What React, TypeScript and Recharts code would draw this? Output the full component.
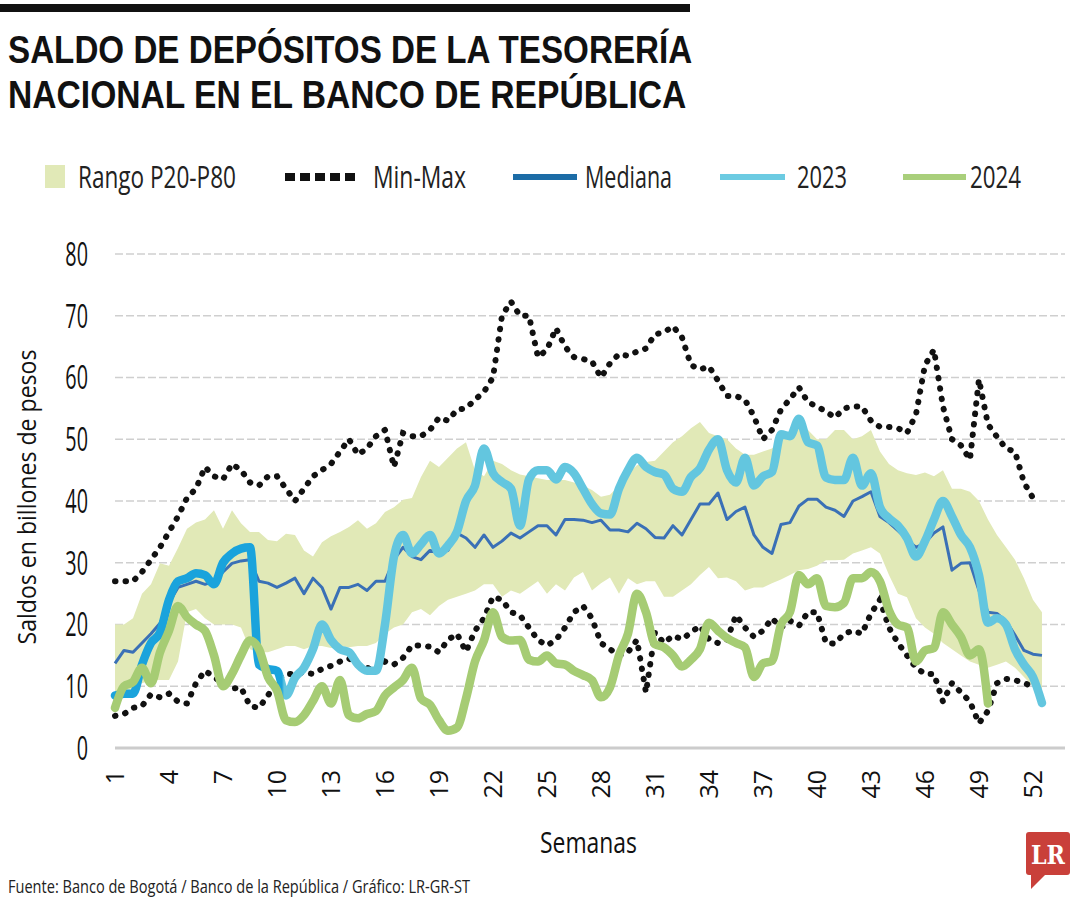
import React, { useLayoutEffect, useRef, useState } from 'react';
import { ComposedChart, Area, Line, XAxis, YAxis, CartesianGrid } from 'recharts';

const weeks = [
  1, 1.5, 2, 2.5, 3, 3.5, 4, 4.5, 5, 5.5,
  6, 6.5, 7, 7.5, 8, 8.5, 9, 9.5, 10, 10.5,
  11, 11.5, 12, 12.5, 13, 13.5, 14, 14.5, 15, 15.5,
  16, 16.5, 17, 17.5, 18, 18.5, 19, 19.5, 20, 20.5,
  21, 21.5, 22, 22.5, 23, 23.5, 24, 24.5, 25, 25.5,
  26, 26.5, 27, 27.5, 28, 28.5, 29, 29.5, 30, 30.5,
  31, 31.5, 32, 32.5, 33, 33.5, 34, 34.5, 35, 35.5,
  36, 36.5, 37, 37.5, 38, 38.5, 39, 39.5, 40, 40.5,
  41, 41.5, 42, 42.5, 43, 43.5, 44, 44.5, 45, 45.5,
  46, 46.5, 47, 47.5, 48, 48.5, 49, 49.5, 50, 50.5,
  51, 51.5, 52, 52.5,
];

const bandLow = [
  8, 9, 9.5, 10.5, 11, 11, 11, 14, 22, 22.5,
  21, 20, 20, 20, 19.5, 16, 15.5, 15.5, 16, 16.5,
  16.5, 16, 16.5, 16.5, 16.2, 16.5, 16.3, 16.5, 16.5, 17,
  18.5, 19.5, 20, 22, 22.5, 21.5, 23, 24, 24.5, 25,
  25.5, 26.5, 26.5, 24.5, 25.5, 25, 26, 27, 25, 26.5,
  25.5, 27.6, 28.5, 25.5, 26.7, 27.6, 25, 27.5, 26.5, 27,
  27, 24.5, 24.5, 25.5, 26.5, 28, 29.3, 27.5, 27.6, 27,
  25.5, 26, 26, 26.7, 27.3, 28, 28.8, 29, 29.5, 30.4,
  30.4, 30.5, 31.5, 32, 32.5, 31.5, 28, 25, 24.4, 21,
  19.5, 18.5, 17, 16, 15, 14, 13.5, 13, 13.5, 14,
  13, 11.5, 10, 8,
];

const bandHigh = [
  20, 20, 21, 25, 26.5, 29.9, 29.5, 32.4, 35.5, 36.5,
  37, 38.5, 35.5, 38.5, 36.4, 35, 35, 33.7, 33.5, 34.7,
  34.5, 32, 31, 33.3, 34.3, 35, 35.8, 36.9, 35.5, 36.4,
  38.2, 39, 40.2, 40.5, 43.9, 46.5, 45.5, 47, 48.5, 49.5,
  45, 44, 46.5, 46, 45, 44.3, 44, 43.7, 43.4, 43.4,
  43.4, 43, 42.5, 41.8, 40.7, 41, 42.5, 44.5, 45.8, 46.3,
  46.5, 48, 49.5, 50.5, 51.8, 52.8, 51, 50.5, 50, 48.5,
  47.5, 47.5, 48, 48.5, 50, 51, 52, 51.5, 50, 50,
  51.5, 51.5, 50, 50.5, 51.5, 48, 46, 45, 44.5, 44.2,
  44.6, 44, 45, 42, 42, 41.5, 40, 37, 34.5, 32.5,
  30.5, 27.5, 24, 22,
];

const maxSeries = [
  27, 27, 27, 28.5, 30.5, 32.5, 35, 37.5, 40.5, 42,
  45.5, 44, 43.5, 46, 45, 43, 42.5, 44, 44, 42,
  40, 42, 44, 45, 46, 48, 50, 47.5, 48.5, 50.5,
  51.5, 45.5, 51, 50.5, 50.5, 51.5, 53.5, 53, 54.8, 55,
  56.4, 57.7, 60, 70, 72.3, 70, 70, 63.3, 64.5, 68,
  65, 63.3, 63, 62.6, 60, 62.3, 63.8, 63.5, 64.2, 64.7,
  67, 67.3, 68.3, 66.5, 62, 61.3, 61.8, 59.5, 57, 57,
  56.4, 53.7, 50, 51.5, 54.8, 56.5, 58.4, 56, 55.3, 54.5,
  53.5, 55, 55.3, 55.3, 53, 52, 52, 51.8, 51, 54,
  62, 64.5, 55.3, 50, 49, 46.7, 59.7, 52.4, 50.4, 48.5,
  48, 43, 40.5, null,
];

const minSeries = [
  5.2, 5.5, 6.5, 6.8, 8.7, 8.2, 8.8, 7.5, 7.2, 10.5,
  12.5, 11.5, 10.5, 9.6, 9.8, 6.8, 6.5, 8.5, 11, 12,
  12, 12.2, 12, 12.8, 13.3, 14, 14.5, 13.5, 13, 12.5,
  14, 13.5, 14.6, 16.6, 16.6, 16.4, 15.5, 17.5, 18.5, 15.6,
  19, 21, 24.5, 24, 22, 21.5, 19.5, 17.5, 16.6, 17.5,
  19.5, 22, 23, 21, 17, 16, 15, 15.5, 17.5, 9,
  18.7, 17, 18.2, 17.6, 18.7, 19.8, 17.6, 17, 17.5, 21.5,
  19.5, 18, 19, 21, 19.5, 20.6, 19.8, 22, 22, 17,
  16.9, 18.5, 19, 18.5, 21.8, 24, 19.5, 17, 15, 13,
  12, 12, 7.5, 10.5, 9, 7.5, 4, 6, 10.5, 11.2,
  11, 10.5, 10, null,
];

const median = [
  13.7, 15.8, 15.5, 17, 18.5, 20.2, 23.5, 26, 26.5, 27,
  26.5, 27, 28.5, 29.9, 30.3, 30.5, 27, 26.7, 26, 26.7,
  27.5, 25, 27.5, 26, 22.5, 26, 26, 26.5, 25.5, 27,
  27, 30.5, 32.5, 31, 30.5, 32, 31.5, 32, 34.8, 34,
  32.5, 34.5, 32.5, 33.5, 34.8, 34, 35, 36, 36, 34.5,
  37, 37, 36.9, 36.5, 36.9, 35.3, 35.3, 35, 36.4, 35.5,
  34.1, 34, 36, 34.5, 37, 39.5, 39.5, 41.3, 37, 38.3,
  39, 34.5, 32.5, 31.5, 36.2, 36.5, 39.2, 40.3, 40.3, 39,
  38.5, 37.5, 40, 40.7, 41.5, 37.5, 36.5, 35.2, 33.8, 32.5,
  33.2, 34.8, 35.8, 28.8, 29.9, 30, 25.5, 22, 21.8, 20.6,
  18.3, 15.8, 15.2, 15,
];

const y2023 = [
  8.5, 8.8, 8.8, 13.5, 17, 18.7, 24, 27, 27.5, 28.3,
  28, 26.5, 30, 31.5, 32.3, 32.5, 13.5, 12.8, 12.5, 8.5,
  11.4, 13, 16, 20, 17.5, 16, 15.5, 13.5, 12.5, 12.5,
  20, 31, 34.5, 31.5, 33, 34.5, 31.5, 32.8, 35, 40,
  42.5, 48.5, 44.5, 43.1, 42, 36, 43.5, 45, 45, 43.5,
  45.5, 44.5, 42, 39.5, 38, 37.8, 42, 45, 47, 45.5,
  44.7, 44.3, 42, 41.5, 43.9, 45.3, 48.3, 50, 45, 43,
  47, 42.5, 44, 44.7, 50.8, 50.5, 53.3, 49.5, 49, 43.8,
  43.4, 43.4, 47, 42.5, 44.5, 39, 37.2, 36, 34, 31,
  33.5, 37, 40, 37.5, 34.5, 32.5, 28, 20.3, 21, 20,
  16, 13.5, 11.5, 7.3,
];

const y2024 = [
  6.5, 10, 10.7, 13, 10.5, 15.5, 19, 23, 21.2, 20,
  19, 15, 10, 12, 15, 17.4, 16, 11.5, 9.3, 4.5,
  4.2, 5.3, 7.6, 10, 7.2, 11, 5.3, 4.8, 5.5, 6,
  8.5, 9.8, 11, 13, 8, 7, 4.5, 2.8, 3.3, 8,
  14, 17.4, 22, 18, 17.4, 17.5, 14.3, 14, 15, 13.7,
  13.5, 12.5, 11.8, 11, 8.2, 9.8, 15, 18.5, 25, 22,
  16.8, 16.3, 15, 13.2, 14.3, 16, 20.3, 19, 17.8, 17,
  16.3, 11.5, 13.7, 14.1, 20, 22, 28, 26.5, 27.5, 23,
  22.8, 23.5, 27.5, 27.5, 28.5, 27, 22.3, 20, 19.5, 14,
  15.8, 16.2, 22, 20, 18, 15, 16, 7.2, null, null,
  null, null, null, null,
];

const xTicks = [1, 4, 7, 10, 13, 16, 19, 22, 25, 28, 31, 34, 37, 40, 43, 46, 49, 52];
const yTicks = [0, 10, 20, 30, 40, 50, 60, 70, 80];

const titleLines = ['SALDO DE DEPÓSITOS DE LA TESORERÍA', 'NACIONAL EN EL BANCO DE REPÚBLICA'];

const data = weeks.map((w, i) => ({
  w,
  band: [bandLow[i], bandHigh[i]],
  max: maxSeries[i],
  min: minSeries[i],
  med: median[i],
  a2023: y2023[i],
  a2024: y2024[i],
}));

const FONT = '"Open Sans", "Noto Sans", Arial, sans-serif';
const TITLE_FONT = '"Liberation Sans", Arial, sans-serif';
const BAND = '#e1e9b7';
const MED = '#3a70b6';
const C2024 = '#a6cc74';

const YTick = (props: any) => {
  const { y, payload } = props;
  return (
    <g transform={`translate(88,${y})`}>
      <text transform="scale(0.6,1)" textAnchor="end" dy="0.36em" fontSize={33} fill="#111" fontFamily={FONT}>
        {payload.value}
      </text>
    </g>
  );
};

const XTick = (props: any) => {
  const { x, payload } = props;
  return (
    <g transform={`translate(${x},770) rotate(-90)`}>
      <text textAnchor="end" dy="0.36em" fontSize={25} fill="#111" fontFamily={FONT}>
        {payload.value}
      </text>
    </g>
  );
};

function FitLine({ text, top, width }: { text: string; top: number; width: number }) {
  const ref = useRef<HTMLDivElement>(null);
  const [scale, setScale] = useState(0.8);
  useLayoutEffect(() => {
    if (ref.current) {
      const natural = ref.current.offsetWidth;
      if (natural > 0) setScale(width / natural);
    }
  }, [text, width]);
  return (
    <div
      ref={ref}
      style={{
        position: 'absolute',
        left: 8,
        top,
        height: 44,
        lineHeight: '44px',
        fontSize: 39.5,
        fontWeight: 700,
        fontFamily: TITLE_FONT,
        color: '#111',
        whiteSpace: 'nowrap',
        transformOrigin: 'left center',
        transform: `scaleX(${scale})`,
      }}
    >
      {text}
    </div>
  );
}

export default function App() {
  return (
    <div style={{ position: 'absolute', left: 0, top: 0, width: 1080, height: 900, background: '#fff', overflow: 'hidden' }}>
      <svg width={0} height={0} style={{ position: 'absolute' }}>
        <defs>
          <linearGradient id="g2023" gradientUnits="userSpaceOnUse" x1={0} y1={0} x2={1080} y2={0}>
            <stop offset="0" stopColor="#1aa3dc" />
            <stop offset="0.261" stopColor="#1aa3dc" />
            <stop offset="0.263" stopColor="#63c6df" />
            <stop offset="1" stopColor="#63c6df" />
          </linearGradient>
        </defs>
      </svg>
      <div style={{ position: 'absolute', left: 0, top: 0 }}>
        <ComposedChart width={1080} height={900} data={data} margin={{ top: 254, right: 15, bottom: 112, left: 0 }}>
          <CartesianGrid vertical={false} stroke="#cfcfcf" strokeDasharray="8 3" strokeWidth={1.5} />
          <XAxis
            dataKey="w"
            type="number"
            domain={[1, 53.78]}
            ticks={xTicks}
            interval={0}
            axisLine={{ stroke: '#cccccc', strokeWidth: 3 }}
            tickLine={false}
            height={40}
            tick={<XTick />}
          />
          <YAxis
            domain={[0, 80]}
            ticks={yTicks}
            interval={0}
            width={115}
            axisLine={false}
            tickLine={false}
            tick={<YTick />}
          />
          <Area dataKey="band" type="linear" stroke="none" fill={BAND} fillOpacity={1} isAnimationActive={false} />
          <Line dataKey="max" type="linear" stroke="#111" strokeWidth={6} strokeDasharray="0.5 10" strokeLinecap="round" dot={false} isAnimationActive={false} />
          <Line dataKey="min" type="linear" stroke="#111" strokeWidth={6} strokeDasharray="0.5 10" strokeLinecap="round" dot={false} isAnimationActive={false} />
          <Line dataKey="med" type="linear" stroke={MED} strokeWidth={3} dot={false} strokeLinejoin="round" isAnimationActive={false} />
          <Line dataKey="a2023" type="monotone" stroke="url(#g2023)" strokeWidth={8.5} dot={false} strokeLinejoin="round" strokeLinecap="round" isAnimationActive={false} />
          <Line dataKey="a2024" type="monotone" stroke={C2024} strokeWidth={8.5} dot={false} strokeLinejoin="round" strokeLinecap="round" isAnimationActive={false} />
        </ComposedChart>
      </div>

      <div style={{ position: 'absolute', left: 0, top: 4, width: 690, height: 8, background: '#111' }} />
      <FitLine text={titleLines[0]} top={27} width={684} />
      <FitLine text={titleLines[1]} top={71.5} width={678} />

      <svg width={1080} height={900} style={{ position: 'absolute', left: 0, top: 0, pointerEvents: 'none' }}>
        <rect x={45} y={165} width={20} height={23} fill={BAND} />
        <text x={78} y={188} fontSize={31} fill="#222" fontFamily={FONT} textLength={158} lengthAdjust="spacingAndGlyphs">Rango P20-P80</text>
        <line x1={285} y1={177} x2={360} y2={177} stroke="#111" strokeWidth={8} strokeDasharray="10 5" />
        <text x={373} y={188} fontSize={31} fill="#222" fontFamily={FONT} textLength={93} lengthAdjust="spacingAndGlyphs">Min-Max</text>
        <line x1={513} y1={177} x2={577} y2={177} stroke="#1c6ca6" strokeWidth={6} />
        <text x={585} y={188} fontSize={31} fill="#222" fontFamily={FONT} textLength={87} lengthAdjust="spacingAndGlyphs">Mediana</text>
        <line x1={720} y1={177} x2={785} y2={177} stroke="#6ccbe2" strokeWidth={6} />
        <text x={797} y={188} fontSize={31} fill="#222" fontFamily={FONT} textLength={50} lengthAdjust="spacingAndGlyphs">2023</text>
        <line x1={903} y1={177} x2={966} y2={177} stroke="#a9cf7b" strokeWidth={6} />
        <text x={970} y={188} fontSize={31} fill="#222" fontFamily={FONT} textLength={51} lengthAdjust="spacingAndGlyphs">2024</text>

        <text transform="translate(36,497) rotate(-90)" textAnchor="middle" fontSize={25} fill="#111" fontFamily={FONT} textLength={295} lengthAdjust="spacingAndGlyphs">
          Saldos en billones de pesos
        </text>
        <text x={540} y={853} fontSize={29} fill="#111" fontFamily={FONT} textLength={97} lengthAdjust="spacingAndGlyphs">Semanas</text>
        <text x={8} y={893} fontSize={19} fill="#222" fontFamily={FONT} textLength={462} lengthAdjust="spacingAndGlyphs">
          Fuente: Banco de Bogotá / Banco de la República / Gráfico: LR-GR-ST
        </text>

        <rect x={1026} y={832} width={44} height={43} rx={3} fill="#c9403a" />
        <polygon points="1031,874 1046,874 1031,889" fill="#c9403a" />
        <text x={1048} y={864} textAnchor="middle" fontSize={26} fontWeight={700} fill="#fff" fontFamily={'"DejaVu Serif", "Liberation Serif", serif'} textLength={34} lengthAdjust="spacingAndGlyphs">LR</text>
      </svg>
    </div>
  );
}
